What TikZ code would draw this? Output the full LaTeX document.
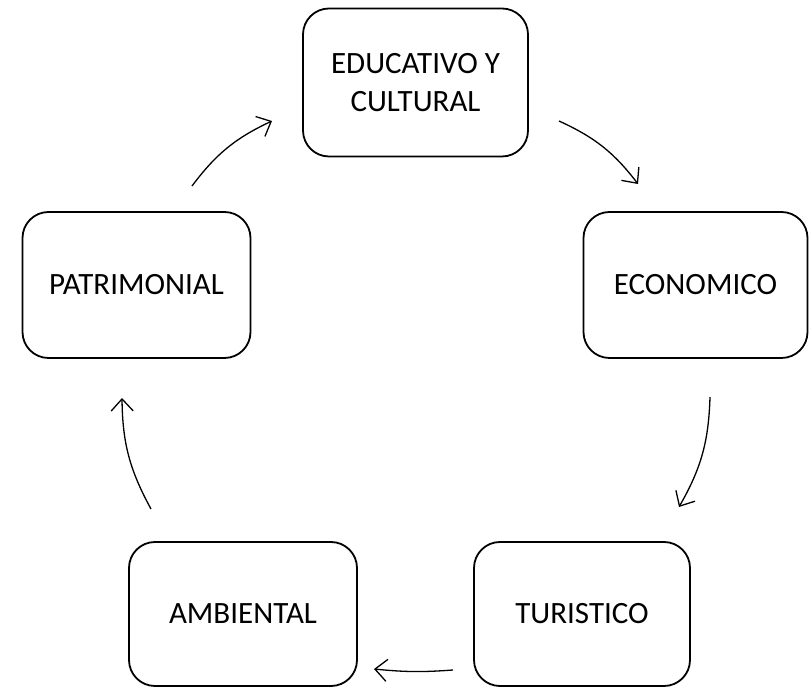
\documentclass[tikz,border=0pt]{standalone}
\usepackage{fontspec}
\setmainfont{Carlito}
\usetikzlibrary{arrows.meta}
\begin{document}
\begin{tikzpicture}[x=1pt,y=1pt,
  box/.style={draw, line width=1.8pt, rounded corners=26pt, inner sep=0pt, align=center, font=\fontsize{31}{38}\selectfont},
  flow/.style={line width=1.3pt, -{Straight Barb[length=12pt,width=22pt,line width=1.3pt]}}]
\useasboundingbox (0,0) rectangle (809,688);
\node[box, minimum width=225pt, minimum height=148pt] (edu) at (415.5,605.5) {EDUCATIVO Y\\CULTURAL};
\node[box, minimum width=224pt, minimum height=146pt] (eco) at (695.5,403) {ECONOMICO};
\node[box, minimum width=228pt, minimum height=146pt] (pat) at (136.5,403) {PATRIMONIAL};
\node[box, minimum width=228pt, minimum height=144pt] (amb) at (243,74) {AMBIENTAL};
\node[box, minimum width=216pt, minimum height=144pt] (tur) at (582,74) {TURISTICO};
\coordinate (a1s) at (192,502); \coordinate (a1e) at (272,567);
\coordinate (a2s) at (559,567); \coordinate (a2e) at (638,504);
\coordinate (a3s) at (710,291); \coordinate (a3e) at (679,181);
\coordinate (a4s) at (453,18);  \coordinate (a4e) at (374,19);
\coordinate (a5s) at (151,179); \coordinate (a5e) at (122,290);
\draw[flow] (a1s) to[bend left=14] (a1e);
\draw[flow] (a2s) to[bend left=14] (a2e);
\draw[flow] (a3s) to[bend left=14] (a3e);
\draw[flow] (a4s) to[bend left=5] (a4e);
\draw[flow] (a5s) to[bend left=14] (a5e);
\end{tikzpicture}
\end{document}
